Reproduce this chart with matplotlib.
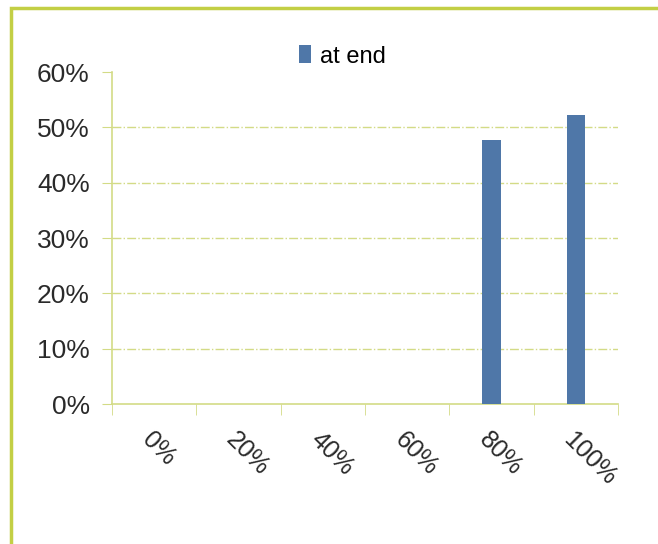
import matplotlib.pyplot as plt
import matplotlib.patches as patches
import numpy as np

categories = ['0%', '20%', '40%', '60%', '80%', '100%']
at_end = [0, 0, 0, 0, 47.8, 52.2]
y_ticks = [0, 10, 20, 30, 40, 50, 60]

plt.rcParams['font.family'] = ['Liberation Sans', 'DejaVu Sans']

fig = plt.figure(figsize=(6.58, 5.44), dpi=100)
frame_col = '#c3cf45'
line_col = '#d3db86'

# outer chart frame (only left and top edges visible)
fig.patches.append(patches.Rectangle((11 / 658, -0.1), 1.2, 1 - 8 / 544 + 0.1,
                                     transform=fig.transFigure, fill=False,
                                     edgecolor=frame_col, linewidth=2.5))

ax = fig.add_axes([112 / 658, 1 - 404 / 544, 506 / 658, 332 / 544])
x = np.arange(len(categories))
ax.bar(x, at_end, width=0.22, color='#4f77a8', label='at end', zorder=3)

ax.set_xlim(-0.5, len(categories) - 0.5)
ax.set_ylim(0, 60)
ax.set_yticks(y_ticks)
ax.set_yticklabels([f'{v}%' for v in y_ticks])

for v in y_ticks[1:-1]:
    ax.axhline(v, color=line_col, linestyle='-.', linewidth=1, zorder=1)

ax.set_xticks(x)
ax.set_xticklabels(categories, rotation=-45, ha='left', va='top',
                   rotation_mode='anchor')
ax.set_xticks(np.arange(-0.5, len(categories)), minor=True)
ax.tick_params(axis='x', which='major', length=0, pad=17, labelsize=18,
               labelcolor='#2a2a2a')
ax.tick_params(axis='x', which='minor', length=8, color=line_col, direction='out')
ax.tick_params(axis='y', length=7, color=line_col, pad=9, labelsize=19,
               labelcolor='#2a2a2a')

for s in ['top', 'right']:
    ax.spines[s].set_visible(False)
for s in ['left', 'bottom']:
    ax.spines[s].set_color(line_col)
    ax.spines[s].set_linewidth(1.2)

ax.legend(loc='lower center', bbox_to_anchor=(0.456, 0.985), frameon=False,
          fontsize=17, handlelength=0.5, handleheight=0.8, handletextpad=0.4,
          borderaxespad=0.0)

fig.savefig('out.png', dpi=100, facecolor='white')
